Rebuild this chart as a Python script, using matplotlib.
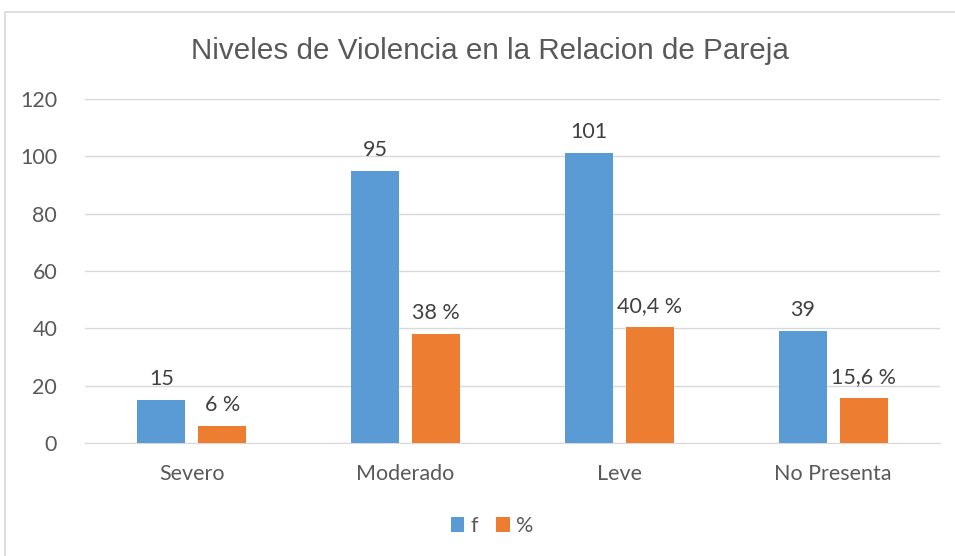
import matplotlib
matplotlib.use("Agg")
import matplotlib.pyplot as plt
from matplotlib.patches import Rectangle
import numpy as np

categories = ["Severo", "Moderado", "Leve", "No Presenta"]
f_values = [15, 95, 101, 39]
pct_values = [6, 38, 40.4, 15.6]
pct_labels = ["6 %", "38 %", "40,4 %", "15,6 %"]
yticks = [0, 20, 40, 60, 80, 100, 120]

W, H = 955, 556
fig = plt.figure(figsize=(W/100, H/100), dpi=100)
fig.patch.set_facecolor("white")

# chart border
fig.add_artist(Rectangle((5/W, -0.1), 1.2, (H-12)/H + 0.1, transform=fig.transFigure,
                         fill=False, edgecolor="#d9d9d9", linewidth=1.2))

ax = fig.add_axes([85/W, (H-443)/H, (940-85)/W, (443-99)/H])
ax.set_xlim(-0.5, 3.5)
ax.set_ylim(0, 120)

x = np.arange(len(categories))
bw = 0.225
off = 0.143
blue = "#5b9bd5"
orange = "#ed7d31"
txt = "#595959"
font = "Lato"
fs = 15.5

b1 = ax.bar(x - off, f_values, bw, color=blue, label="f", zorder=3)
b2 = ax.bar(x + off, pct_values, bw, color=orange, label="%", zorder=3)

for xi, v in zip(x, f_values):
    ax.annotate(str(v), (xi - off, v), xytext=(0, 8), textcoords="offset points",
                ha="center", va="bottom", fontsize=fs, color="#404040", family=font)
for xi, v, l in zip(x, pct_values, pct_labels):
    ax.annotate(l, (xi + off, v), xytext=(0, 8), textcoords="offset points",
                ha="center", va="bottom", fontsize=fs, color="#404040", family=font)

ax.set_yticks(yticks)
ax.set_yticklabels([str(t) for t in yticks], fontsize=fs, color=txt, family=font)
ax.set_xticks(x)
ax.set_xticklabels(categories, fontsize=fs, color=txt, family=font)
ax.tick_params(axis="both", length=0)
ax.tick_params(axis="y", pad=20)
ax.tick_params(axis="x", pad=15)
ax.grid(axis="y", color="#d9d9d9", linewidth=1, zorder=0)
for s in ["top", "right", "left"]:
    ax.spines[s].set_visible(False)
ax.spines["bottom"].set_color("#d9d9d9")

fig.text(490/W, 1 - 51/H, "Niveles de Violencia en la Relacion de Pareja", ha="center", va="center",
         fontsize=21.3, color=txt, family="Liberation Sans")

leg = fig.legend(handles=[b1, b2], labels=["f", "%"], loc="center", bbox_to_anchor=(492/W, 1 - 526/H),
                 ncol=2, frameon=False, fontsize=fs, handlelength=0.65, handleheight=0.65,
                 handletextpad=0.3, columnspacing=0.8)
for t in leg.get_texts():
    t.set_color(txt)
    t.set_family(font)

fig.savefig("out.png", dpi=100)
